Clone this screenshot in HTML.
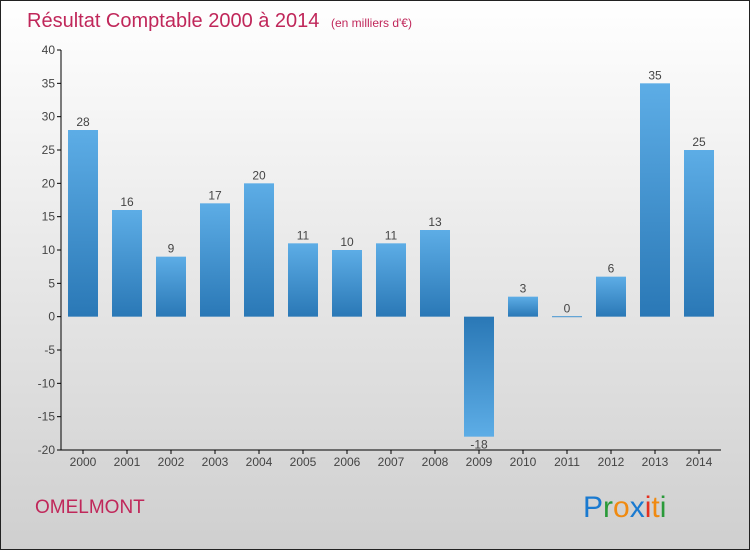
<!DOCTYPE html>
<html><head><meta charset="utf-8"><style>
body{margin:0;width:750px;height:550px;overflow:hidden;font-family:"Liberation Sans",sans-serif}
svg{display:block}
</style></head><body>
<svg width="750" height="550">
<defs>
<linearGradient id="bg" x1="0" y1="0" x2="0" y2="1"><stop offset="0" stop-color="#ffffff"/><stop offset="1" stop-color="#cfcfcf"/></linearGradient>
<linearGradient id="pos" x1="0" y1="0" x2="0" y2="1"><stop offset="0" stop-color="#5dade6"/><stop offset="1" stop-color="#2a78b6"/></linearGradient>
<linearGradient id="neg" x1="0" y1="0" x2="0" y2="1"><stop offset="0" stop-color="#2a78b6"/><stop offset="1" stop-color="#5dade6"/></linearGradient>
</defs>
<rect x="0.5" y="0.5" width="749" height="549" fill="url(#bg)" stroke="#222"/>
<text x="27" y="27" font-size="20" fill="#c0275a">Résultat Comptable 2000 à 2014 <tspan font-size="12" dx="6">(en milliers d'€)</tspan></text>
<g id="yaxis"></g>
<g id="xaxis"></g>
<g id="bars"></g>
<text x="35" y="513" font-size="19" fill="#c0275a">OMELMONT</text>
<g font-size="30" font-family="'Liberation Sans',sans-serif">
<text x="583" y="517"><tspan fill="#1a7ad0">P</tspan><tspan fill="#2a9a3a">r</tspan><tspan fill="#f08a10">o</tspan><tspan fill="#1a7ad0">x</tspan><tspan fill="#e53020">i</tspan><tspan fill="#f08a10">t</tspan><tspan fill="#2a9a3a">i</tspan></text>
</g>
</svg>
<script>
const years=["2000","2001","2002","2003","2004","2005","2006","2007","2008","2009","2010","2011","2012","2013","2014"];
const values=[28,16,9,17,20,11,10,11,13,-18,3,0,6,35,25];
const yTicks=[40,35,30,25,20,15,10,5,0,-5,-10,-15,-20];
const NS="http://www.w3.org/2000/svg";
const x0=61,x1=721,yTop=50,yBot=450,vMax=40,vMin=-20;
const step=(x1-x0)/years.length;
function y(v){return yTop+(vMax-v)/(vMax-vMin)*(yBot-yTop);}
function xc(i){return x0+step*(i+0.5);}
function mk(t,a,p){const e=document.createElementNS(NS,t);for(const k in a)e.setAttribute(k,a[k]);p.appendChild(e);return e;}
const ya=document.getElementById('yaxis'),xa=document.getElementById('xaxis'),bg=document.getElementById('bars');
mk('line',{x1:x0,y1:yTop,x2:x0,y2:yBot,stroke:'#000'},ya);
yTicks.forEach(v=>{
 mk('line',{x1:x0-4,y1:y(v),x2:x0,y2:y(v),stroke:'#000'},ya);
 const t=mk('text',{x:x0-6,y:y(v)+4,'text-anchor':'end','font-size':12,fill:'#444'},ya);
 t.textContent=v;
 
 
});
mk('line',{x1:x0,y1:yBot,x2:x1,y2:yBot,stroke:'#000'},xa);
years.forEach((yr,i)=>{
 mk('line',{x1:xc(i),y1:yBot,x2:xc(i),y2:yBot+4,stroke:'#000'},xa);
 const t=mk('text',{x:xc(i),y:yBot+16,'text-anchor':'middle','font-size':12,fill:'#444'},xa);
 t.textContent=yr;
 
 
 const v=values[i],w=30;
 const top=v>=0?y(v):y(0),h=Math.max(Math.abs(y(v)-y(0)),1);
 const r=mk('rect',{x:xc(i)-w/2,y:v===0?y(0)-0.5:top,width:w,height:h,fill:v>=0?'url(#pos)':'url(#neg)'},bg);
 
 
 const l=mk('text',{x:xc(i),y:v>=0?y(v)-4:y(v)+12,'text-anchor':'middle','font-size':12,fill:'#444'},bg);
 l.textContent=v;
 
 
});
</script>
</body></html>
